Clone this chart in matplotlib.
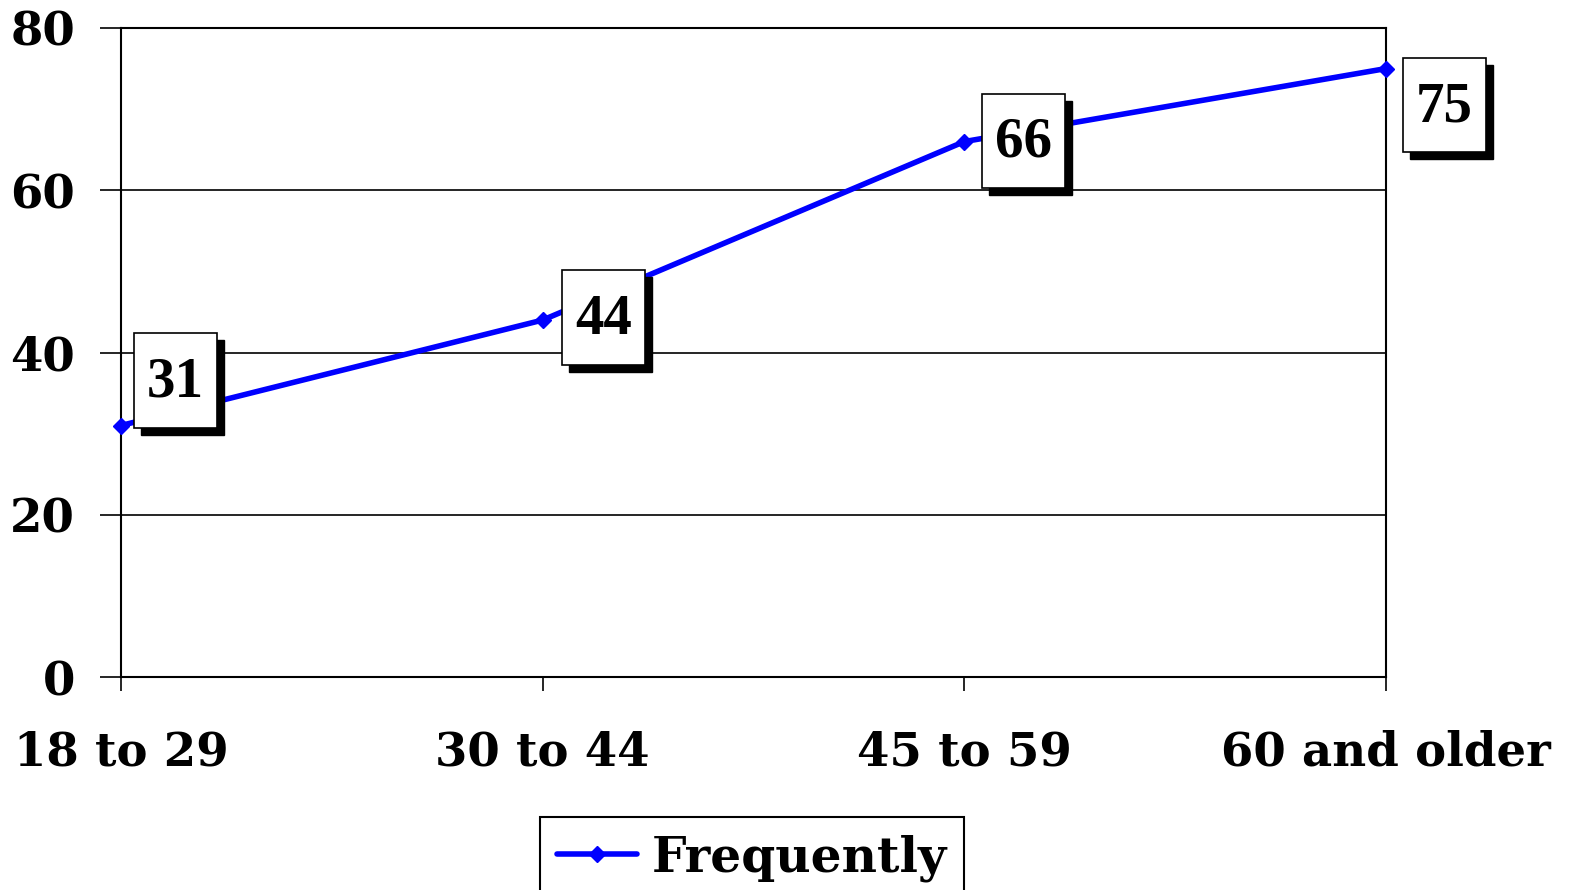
import matplotlib
matplotlib.use("Agg")
import matplotlib.pyplot as plt
from matplotlib.patches import Rectangle
from matplotlib.transforms import ScaledTranslation

categories = ["18 to 29", "30 to 44", "45 to 59", "60 and older"]
values = [31, 44, 66, 75]
series_name = "Frequently"
yticks = [0, 20, 40, 60, 80]

plt.rcParams['font.family'] = ['DejaVu Serif']
plt.rcParams['font.weight'] = 'bold'

W, H, DPI = 1570, 890, 100
fig = plt.figure(figsize=(W / DPI, H / DPI), dpi=DPI)
ax = fig.add_axes([121 / W, 1 - 677 / H, (1386 - 121) / W, (677 - 28) / H])

x = list(range(len(categories)))
ax.plot(x, values, color='#0000FF', lw=4, marker='D', ms=8, label=series_name,
        solid_capstyle='round', zorder=3, clip_on=False)

ax.set_xlim(0, len(categories) - 1)
ax.set_ylim(0, 80)
ax.set_yticks(yticks)
ax.set_xticks(x)
ax.set_xticklabels(categories)
ax.yaxis.grid(True, color='black', lw=1.2)
ax.set_axisbelow(True)
for s in ax.spines.values():
    s.set_linewidth(1.5)
ax.tick_params(axis='y', direction='out', length=15, width=1.2, pad=18, labelsize=33.6)
ax.tick_params(axis='x', direction='out', length=10, width=1.2, pad=28, labelsize=33.6)
for t in ax.get_xticklabels() + ax.get_yticklabels():
    t.set_fontweight('bold')
    t.set_family('DejaVu Serif')

# data label boxes: (left, bottom, top) offsets in pixels relative to the point
box_offsets = [(13, -2.5, 92.5), (19, -45, 50), (18, -46, 48), (17, -83.5, 10.5)]
box_w = 83
shadow = 7
for xi, v, (dl, db, dt) in zip(x, values, box_offsets):
    anchor = ScaledTranslation(xi, v, ax.transData)
    hgt = dt - db
    ax.add_patch(Rectangle((dl + shadow, db - shadow), box_w, hgt, fc='black', ec='black',
                           lw=1, transform=anchor, zorder=5, clip_on=False))
    ax.add_patch(Rectangle((dl, db), box_w, hgt, fc='white', ec='black',
                           lw=1.2, transform=anchor, zorder=6, clip_on=False))
    ax.text(dl + box_w / 2, (db + dt) / 2 - 2, str(v), transform=anchor,
            ha='center', va='center', fontsize=41, fontweight='bold',
            family=['Liberation Serif', 'DejaVu Serif'], zorder=7, clip_on=False)

leg = fig.legend(loc='upper center', bbox_to_anchor=(752 / W, 1 - 817 / H),
                 frameon=True, fancybox=False, edgecolor='black', framealpha=1,
                 prop={'family': 'DejaVu Serif', 'weight': 'bold', 'size': 35},
                 handlelength=1.65, borderpad=0.35, handletextpad=0.3, borderaxespad=0)
leg.get_frame().set_linewidth(1.5)

fig.savefig('out.png', dpi=DPI)
